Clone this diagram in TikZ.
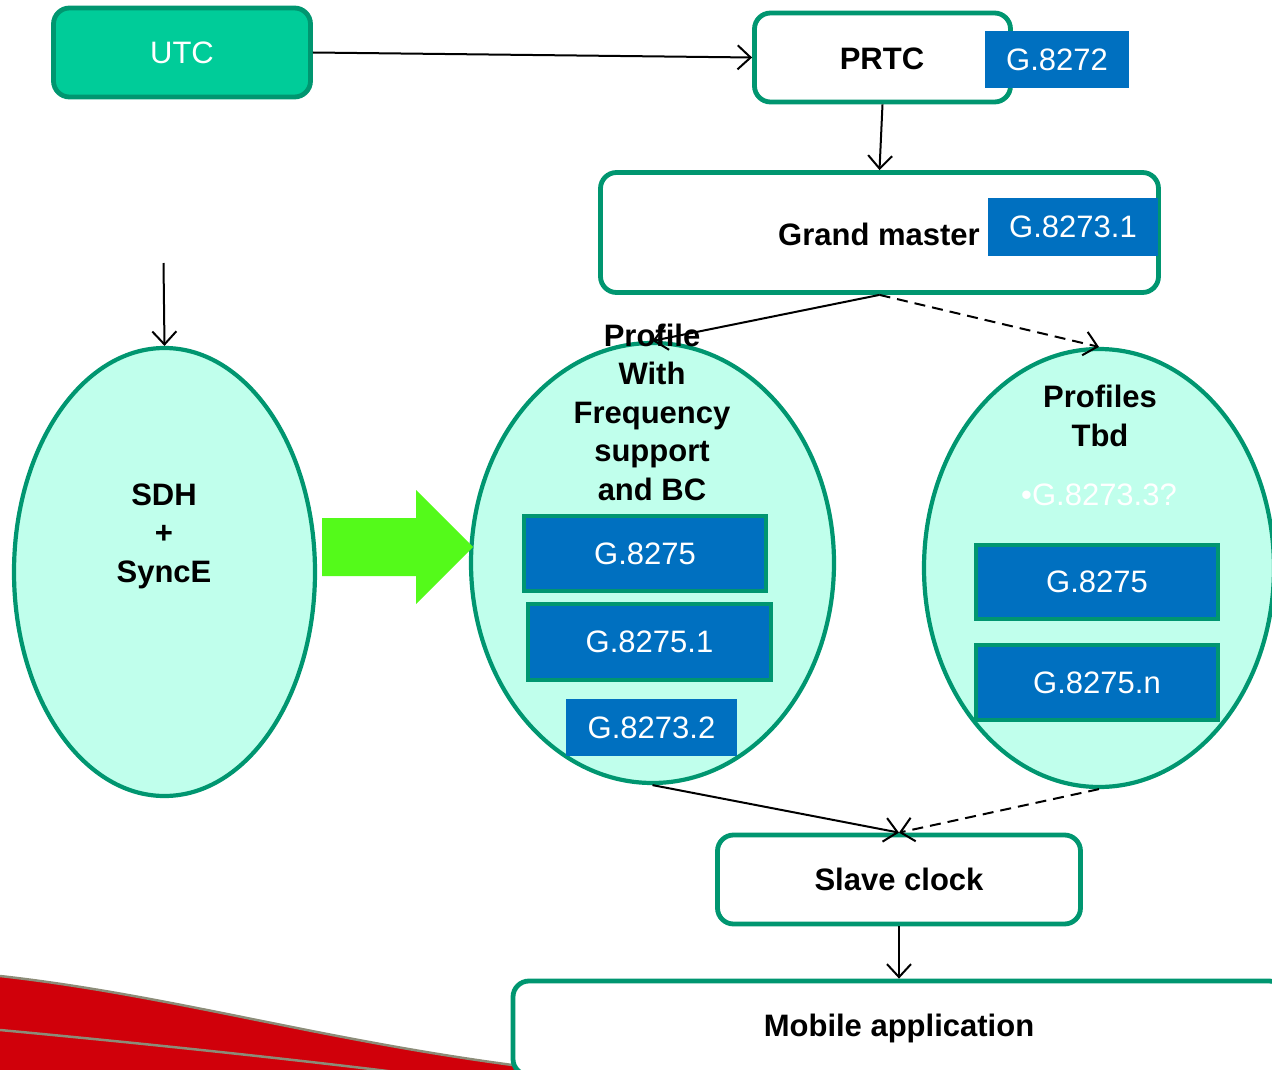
\documentclass[tikz,border=0pt]{standalone}
\usepackage{fontspec}
\setmainfont{Liberation Sans}
\usetikzlibrary{arrows.meta,shapes.geometric}

\definecolor{edgegreen}{RGB}{0,150,112}
\definecolor{utcfill}{RGB}{0,204,153}
\definecolor{mint}{RGB}{192,255,236}
\definecolor{stdblue}{RGB}{0,112,192}
\definecolor{arrowlime}{RGB}{84,250,26}
\definecolor{swoosh}{RGB}{208,0,10}
\definecolor{swooshline}{RGB}{140,140,120}

\newcommand\lblsize{\fontsize{31}{38.5}\selectfont}

\tikzset{
  x=1pt, y=-1pt,
  every node/.style={font=\lblsize, inner sep=0pt},
  clockbox/.style={draw=edgegreen, line width=4.8pt, rounded corners=16pt,
    fill=white, font=\lblsize\bfseries},
  stdbox/.style={fill=stdblue, text=white},
  stdframed/.style={stdbox, draw=edgegreen, line width=4.5pt},
  family/.style={ellipse, draw=edgegreen, line width=4.2pt, fill=mint},
  link/.style={line width=2pt, -{Straight Barb[length=13pt,width=24pt,line width=2pt]}},
  linkdash/.style={link, dash pattern=on 11pt off 7pt}
}

\begin{document}
\begin{tikzpicture}
\useasboundingbox (0,0) rectangle (1272,1070);

% decorative band, lower left
\fill[swoosh] (0,976) .. controls (170,995) and (320,1040) .. (520,1066)
  -- (520,1075) -- (0,1075) -- cycle;
\draw[swooshline, line width=2.5pt] (0,976) .. controls (170,995) and (320,1040) .. (520,1066);
\draw[swooshline, line width=2.5pt] (0,1030) .. controls (150,1044) and (300,1060) .. (420,1075);

% source of time
\node[draw=edgegreen, line width=4.8pt, rounded corners=16pt, fill=utcfill,
  text=white, minimum width=257pt, minimum height=89pt] (utc) at (182,52.5) {UTC};

% reference clocks
\node[clockbox, minimum width=256pt, minimum height=89pt] (prtc) at (882.5,57.5) {};
\node[font=\lblsize\bfseries] (prtclbl) at (882,59) {PRTC};
\node[stdbox, minimum width=144pt, minimum height=57pt] (g8272) at (1057,59.5) {G.8272};

\node[clockbox, minimum width=558pt, minimum height=120pt] (gm) at (879.5,232.5) {};
\node[font=\lblsize\bfseries] (gmlbl) at (879,234) {Grand master};
\node[stdbox, minimum width=170pt, minimum height=58pt] (g82731) at (1073,227) {G.8273.1};

% profile families
\node[family, minimum width=301pt, minimum height=448pt] (sdh) at (164.5,572) {};
\node[align=center, font=\lblsize\bfseries] (sdhlbl) at (164,536) {SDH\\+\\SyncE};

\node[family, minimum width=363pt, minimum height=440pt] (mid) at (652.5,563) {};
\node[align=center, font=\lblsize\bfseries] (midlbl) at (652,412) {Profile\\With\\Frequency\\support\\and BC};
\node[stdframed, minimum width=242pt, minimum height=75pt] (m1) at (645,553.5) {G.8275};
\node[stdframed, minimum width=243pt, minimum height=76pt] (m2) at (649.5,642) {G.8275.1};
\node[stdbox, minimum width=171pt, minimum height=57pt] (m3) at (651.5,727.5) {G.8273.2};

\node[family, minimum width=350pt, minimum height=438pt] (tbd) at (1099,568) {};
\node[align=center, font=\lblsize\bfseries] (tbdlbl) at (1100,416) {Profiles\\Tbd};
\node[text=white] (g82733) at (1099,495) {•G.8273.3?};
\node[stdframed, minimum width=242pt, minimum height=74pt] (r1) at (1097,582) {G.8275};
\node[stdframed, minimum width=242pt, minimum height=75pt] (r2) at (1097,682.5) {G.8275.n};

% frequency support feeding the middle family
\fill[arrowlime] (322,518) -- (416,518) -- (416,490) -- (473,547)
  -- (416,604) -- (416,576) -- (322,576) -- cycle;

% end points
\node[clockbox, minimum width=363pt, minimum height=89pt] (slave) at (899,879.5) {Slave clock};
\node[clockbox, minimum width=772pt, minimum height=94pt] (mobile) at (899,1028) {Mobile application};

% connectors
\coordinate (sdhin) at (163.5,263);
\draw[link] (utc.east) -- (prtc.west);
\draw[link] (prtc.south) -- (gm.north);
\draw[link] (sdhin) -- (sdh.north);
\draw[link] (gm.south) -- (mid.north);
\draw[linkdash] (gm.south) -- (tbd.north);
\draw[link] (mid.south) -- (slave.north);
\draw[linkdash] (tbd.south) -- (slave.north);
\draw[link] (slave.south) -- (mobile.north);
\end{tikzpicture}
\end{document}
